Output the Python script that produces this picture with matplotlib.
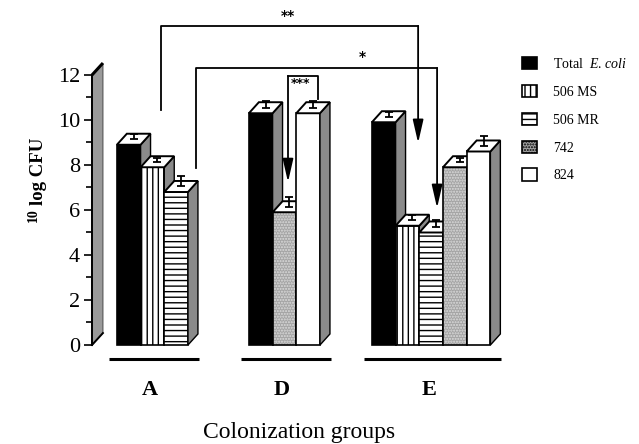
import numpy as np
import matplotlib
matplotlib.use("Agg")
import matplotlib.pyplot as plt
from matplotlib.patches import Polygon, Patch

plt.rcParams['font.family'] = ['Liberation Serif', 'DejaVu Serif']
plt.rcParams['mathtext.fontset'] = 'custom'
plt.rcParams['mathtext.rm'] = 'Liberation Serif'
plt.rcParams['mathtext.it'] = 'Liberation Serif:italic'
plt.rcParams['mathtext.bf'] = 'Liberation Serif:bold'
plt.rcParams['hatch.linewidth'] = 1.0

# ---- data -------------------------------------------------------------
groups = ['A', 'D', 'E']
series = ['Total  $\\it{E.\\,coli}$', '506 MS', '506 MR', '742', '824']
nan = np.nan
total_ecoli = [8.9, 10.3, 9.9]
ms_506 = [7.9, nan, 5.3]
mr_506 = [6.8, nan, 5.0]
strain_742 = [nan, 5.9, 7.9]
strain_824 = [nan, 10.3, 8.6]
err_total = [0.25, 0.3, 0.2]
err_ms = [0.15, nan, 0.25]
err_mr = [0.45, nan, 0.3]
err_742 = [nan, 0.45, 0.15]
err_824 = [nan, 0.3, 0.45]
yticks = [0, 2, 4, 6, 8, 10, 12]

values = [total_ecoli, ms_506, mr_506, strain_742, strain_824]
errors = [err_total, err_ms, err_mr, err_742, err_824]

# ---- styles -----------------------------------------------------------
styles = [dict(facecolor='black', hatch=None),
          dict(facecolor='white', hatch='|||'),
          dict(facecolor='white', hatch='---'),
          dict(facecolor='#a4a4a4', hatch='......'),
          dict(facecolor='white', hatch=None)]
stipple_color = '#dcdcdc'
side_gray = '#8a8a8a'
group_start = [1.05, 6.62, 11.81]   # left edge of first bar in each group
depth_x, depth_y = 0.42, 0.49       # oblique depth of the pseudo-3D bars

fig = plt.figure(figsize=(6.39, 4.44), dpi=100)
ax = fig.add_axes([0, 0, 1, 1])
ax.set_xlim(-3.882, 23.08)
ax.set_ylim(-4.4, 15.333)
for s in ['top', 'right', 'bottom']:
    ax.spines[s].set_visible(False)
ax.spines['left'].set_position(('data', 0))
ax.spines['left'].set_bounds(0, 12)
ax.spines['left'].set_linewidth(1.4)
ax.spines['left'].set_zorder(5)
ax.set_xticks([])
ax.set_yticks(yticks)
ax.set_yticks([1, 3, 5, 7, 9, 11], minor=True)
ax.tick_params(axis='y', which='major', length=5.5, width=1.2, pad=3, labelsize=16)
ax.tick_params(axis='y', which='minor', length=4.5, width=1.2)

# back wall of the y axis
wx, wy = 0.46, 0.53
ax.add_patch(Polygon([(0, 0), (0, 12), (wx, 12 + wy), (wx, wy)], closed=True,
                     facecolor='#9a9a9a', edgecolor='#555555', lw=0.8, zorder=2))
ax.plot([0, wx], [12, 12 + wy], color='black', lw=2.2, zorder=6, solid_capstyle='butt')
ax.plot([0, wx], [0, wy], color='black', lw=1.4, zorder=6)

# ---- bars -------------------------------------------------------------
z = 10
for gi, g in enumerate(groups):
    x = group_start[gi]
    for si in range(len(series)):
        h = values[si][gi]
        if np.isnan(h):
            continue
        st = styles[si]
        if si == 3:
            ax.bar(x, h, width=1, align='edge', facecolor=st['facecolor'],
                   hatch=st['hatch'], edgecolor=stipple_color, lw=0, zorder=z)
            ax.bar(x, h, width=1, align='edge', fill=False, edgecolor='black',
                   lw=1.2, zorder=z + 0.1)
        else:
            ax.bar(x, h, width=1, align='edge', facecolor=st['facecolor'],
                   hatch=st['hatch'], edgecolor='black', lw=1.2, zorder=z)
        # side face
        ax.add_patch(Polygon([(x + 1, 0), (x + 1 + depth_x, depth_y),
                              (x + 1 + depth_x, h + depth_y), (x + 1, h)],
                             closed=True, facecolor=side_gray, edgecolor='black',
                             lw=1.0, zorder=z + 0.2))
        # top face
        ax.add_patch(Polygon([(x, h), (x + depth_x, h + depth_y),
                              (x + 1 + depth_x, h + depth_y), (x + 1, h)],
                             closed=True, facecolor='white', edgecolor='black',
                             lw=1.4, zorder=z + 0.3))
        e = errors[si][gi]
        ax.errorbar([x + 0.5 + depth_x / 2], [h + depth_y / 2],
                    yerr=[[0], [e]], fmt='none', ecolor='black', elinewidth=1.3,
                    capsize=3, capthick=1.3, zorder=z + 0.4)
        x += 1
        z += 1
    # underline below each group
    ax.plot([group_start[gi] - 0.35, x + 0.45], [-0.62, -0.62],
            color='black', lw=2.2, solid_capstyle='butt')
    ax.text((group_start[gi] + x) / 2 - 0.1, -2.0, g, ha='center', va='center',
            fontsize=16, fontweight='bold')

# ---- axis labels ------------------------------------------------------
ax.text(8.75, -3.9, 'Colonization groups', ha='center', va='center', fontsize=17)
ax.text(-2.26, 7.71, 'log CFU', rotation=90, ha='center', va='center',
        fontsize=13.5, fontweight='bold')
ax.text(-2.45, 5.78, '10', rotation=90, ha='center', va='center',
        fontsize=10, fontweight='bold')

# ---- significance brackets -------------------------------------------
def arrow(xv, y_from, y_to):
    ax.annotate('', xy=(xv, y_to), xytext=(xv, y_from),
                arrowprops=dict(arrowstyle='-|>,head_length=1.4,head_width=0.32',
                                mutation_scale=10, lw=1.3, color='black',
                                shrinkA=0, shrinkB=0), zorder=30)

# ** : A vs E
ax.plot([2.91, 2.91, 13.76], [10.44, 14.18, 14.18], color='black', lw=1.3, zorder=30)
arrow(13.76, 14.18, 8.98)
ax.text(8.27, 14.62, '**', ha='center', va='center', fontsize=10, fontweight='bold',
        family='DejaVu Sans')
# * : A vs E (506 MR)
ax.plot([4.39, 4.39, 14.56], [7.87, 12.31, 12.31], color='black', lw=1.3, zorder=30)
arrow(14.56, 12.31, 6.09)
ax.text(11.39, 12.8, '*', ha='center', va='center', fontsize=10, fontweight='bold',
        family='DejaVu Sans')
# *** : within D
ax.plot([9.54, 9.54, 8.27], [10.93, 11.96, 11.96], color='black', lw=1.3, zorder=30)
arrow(8.27, 11.96, 7.24)
ax.text(8.78, 11.6, '***', ha='center', va='center', fontsize=9, fontweight='bold',
        family='DejaVu Sans')

# ---- legend -----------------------------------------------------------
handles = [Patch(facecolor=st['facecolor'], hatch=st['hatch'], edgecolor='black', lw=1.2)
           for st in styles]
fig.legend(handles, series, loc='upper left', bbox_to_anchor=(522 / 639, 1 - 57 / 444),
           frameon=False, fontsize=10, handlelength=1.05, handleheight=1.0,
           handletextpad=1.2, labelspacing=1.0, borderpad=0, borderaxespad=0)

fig.savefig('out.png', dpi=100)
